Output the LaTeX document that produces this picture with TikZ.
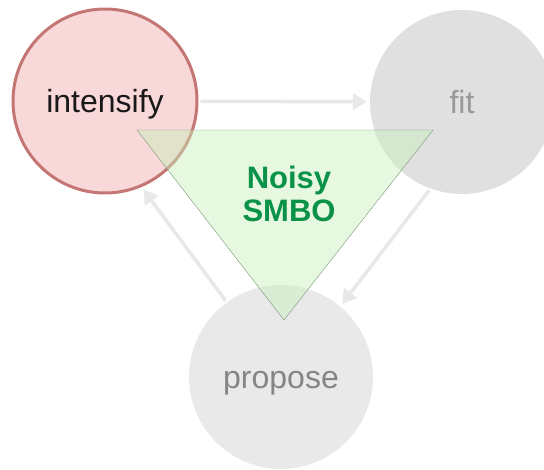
\documentclass[tikz,border=0pt]{standalone}
\usepackage{fontspec}
\setmainfont{Liberation Sans}
\usetikzlibrary{arrows.meta}
\definecolor{Rose}{RGB}{248,216,217}
\definecolor{Brick}{RGB}{196,118,116}
\definecolor{Ash}{RGB}{224,224,224}
\definecolor{Smoke}{RGB}{233,233,233}
\definecolor{Pale}{RGB}{232,232,232}
\definecolor{Mint}{RGB}{200,240,185}
\definecolor{Moss}{RGB}{120,150,120}
\definecolor{Leaf}{RGB}{10,146,72}

\begin{document}
\begin{tikzpicture}[x=1pt,y=-1pt,
 c/.style={circle,minimum size=184pt,inner sep=0pt,text height=24pt,text depth=2pt,font=\fontsize{32}{34}\selectfont},
 a/.style={-{Triangle[length=14pt,width=16pt]},line width=3.5pt,Pale,shorten >=3pt,shorten <=2pt}]
\useasboundingbox (0,0) rectangle (544,469);
\node[c,fill=Rose,draw=Brick,line width=3pt,text=black!90] (intensify) at (105,101) {intensify};
\node[c,fill=Ash,text=black!40] (fit) at (462,102) {fit};
\node[c,fill=Smoke,text=black!48] (propose) at (281,377) {propose};
\draw[a] (intensify) -- (fit);
\draw[a] (fit.250) -- (propose.50);
\draw[a] (propose.126) -- (intensify.293);
\coordinate (tl) at (137,130);
\coordinate (tr) at (433,130);
\coordinate (tb) at (284,320);
\filldraw[draw=Moss,fill=Mint,fill opacity=.45] (tl)--(tr)--(tb)--cycle;
\node[font=\fontsize{31}{33}\selectfont\bfseries,text=Leaf,align=center] (smbo) at (289,194) {Noisy\\SMBO};
\end{tikzpicture}
\end{document}
